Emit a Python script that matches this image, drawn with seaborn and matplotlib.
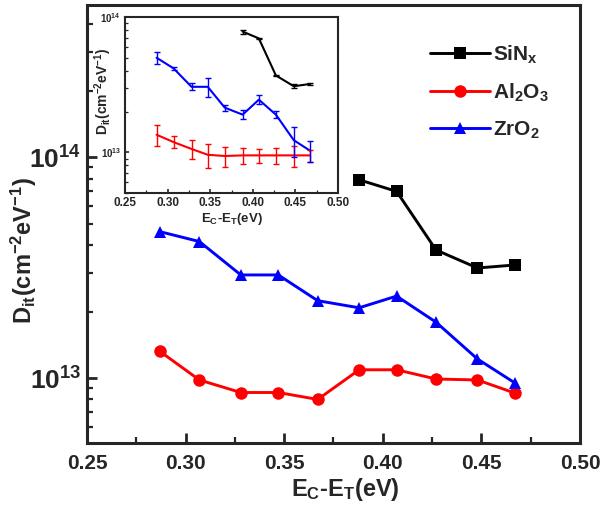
import numpy as np
import pandas as pd
import matplotlib
matplotlib.use("Agg")
import matplotlib.pyplot as plt
import seaborn as sns
from matplotlib.ticker import LogLocator, LogFormatterMathtext, NullFormatter, MultipleLocator

# ---------------- data ----------------
energy = [0.287, 0.307, 0.328, 0.347, 0.367, 0.388, 0.407, 0.427, 0.448, 0.467]
energy_sin = [0.388, 0.407, 0.427, 0.448, 0.467]

sinx_main = [7.9e13, 7.0e13, 3.8e13, 3.15e13, 3.25e13]
al2o3_main = [1.32e13, 9.8e12, 8.6e12, 8.6e12, 8.0e12, 1.09e13, 1.09e13, 9.9e12, 9.8e12, 8.55e12]
zro2_main = [4.6e13, 4.15e13, 2.93e13, 2.93e13, 2.24e13, 2.08e13, 2.35e13, 1.79e13, 1.22e13, 9.5e12]

sinx_inset = [7.8e13, 6.95e13, 3.7e13, 3.08e13, 3.2e13]
sinx_err = [2.7e12, 0.3e12, 0.3e12, 1.1e12, 0.5e12]
al2o3_inset = [1.35e13, 1.19e13, 1.06e13, 9.6e12, 9.4e12, 9.5e12, 9.5e12, 9.5e12, 9.5e12, 9.5e12]
al2o3_err = [2.4e12, 1.2e12, 1.7e12, 1.9e12, 1.6e12, 1.3e12, 1.1e12, 1.3e12, 1.7e12, 1.0e12]
zro2_inset = [5.0e13, 4.17e13, 3.05e13, 3.05e13, 2.14e13, 1.9e13, 2.45e13, 1.9e13, 1.23e13, 1.03e13]
zro2_err = [5.0e12, 1.0e12, 1.8e12, 4.7e12, 1.1e12, 1.5e12, 1.9e12, 1.2e12, 3.1e12, 1.8e12]

labels = [r"SiN$_\mathbf{x}$", r"Al$_\mathbf{2}$O$_\mathbf{3}$", r"ZrO$_\mathbf{2}$"]
colors = ["#000000", "#ff0000", "#0000ff"]
markers = ["s", "o", "^"]

# ---------------- style ----------------
sns.set_theme(style="ticks")
plt.rcParams["font.family"] = ["Liberation Sans", "DejaVu Sans"]
plt.rcParams["font.weight"] = "bold"
plt.rcParams["mathtext.fontset"] = "custom"
plt.rcParams["mathtext.rm"] = "Liberation Sans:bold"
plt.rcParams["mathtext.bf"] = "Liberation Sans:bold"
plt.rcParams["mathtext.it"] = "Liberation Sans:bold"
plt.rcParams["mathtext.default"] = "bf"

fig = plt.figure(figsize=(6.07, 5.15), dpi=100)
ax = fig.add_axes([0.1433, 0.1398, 0.8122, 0.8502])

df = pd.concat([
    pd.DataFrame({"E": energy_sin, "D": sinx_main, "m": labels[0]}),
    pd.DataFrame({"E": energy, "D": al2o3_main, "m": labels[1]}),
    pd.DataFrame({"E": energy, "D": zro2_main, "m": labels[2]}),
], ignore_index=True)

sns.lineplot(data=df, x="E", y="D", hue="m", style="m",
             palette=dict(zip(labels, colors)), markers=dict(zip(labels, markers)),
             dashes=False, linewidth=2.1, markersize=9, markeredgewidth=0,
             ax=ax, legend=True)

ax.set_yscale("log")
ax.set_xlim(0.25, 0.50)
ax.set_ylim(5.08e12, 4.88e14)
ax.xaxis.set_major_locator(MultipleLocator(0.05))
ax.xaxis.set_minor_locator(MultipleLocator(0.025))
ax.xaxis.set_major_formatter(matplotlib.ticker.FormatStrFormatter("%.2f"))
ax.yaxis.set_major_locator(LogLocator(base=10, numticks=10))
ax.yaxis.set_major_formatter(LogFormatterMathtext())
ax.yaxis.set_minor_locator(LogLocator(base=10, subs=np.arange(2, 10), numticks=20))
ax.yaxis.set_minor_formatter(NullFormatter())
ax.tick_params(which="major", direction="in", length=7, width=2, labelsize=15, pad=8)
ax.tick_params(axis="y", which="major", labelsize=19, pad=4)
ax.tick_params(which="minor", direction="in", length=4, width=1.6)
for s in ax.spines.values():
    s.set_linewidth(2.2)
ax.set_xlabel(r"E$_\mathbf{C}$-E$_\mathbf{T}$(eV)", fontsize=17, fontweight="bold", labelpad=2)
ax.xaxis.set_label_coords(0.525, -0.075)
ax.set_ylabel(r"D$_\mathbf{it}$(cm$^\mathbf{-2}$eV$^\mathbf{-1}$)", fontsize=17, fontweight="bold")
ax.yaxis.set_label_coords(-0.097, 0.44)

leg = ax.legend(loc="upper right", bbox_to_anchor=(0.975, 0.955), frameon=False, fontsize=15,
                handlelength=2.9, handletextpad=0.15, labelspacing=0.75, title=None)
for t in leg.get_texts():
    t.set_fontweight("bold")

# ---------------- inset ----------------
ins = fig.add_axes([0.206, 0.625, 0.351, 0.342])
dfi = pd.concat([
    pd.DataFrame({"E": energy_sin, "D": sinx_inset, "m": labels[0]}),
    pd.DataFrame({"E": energy, "D": al2o3_inset, "m": labels[1]}),
    pd.DataFrame({"E": energy, "D": zro2_inset, "m": labels[2]}),
], ignore_index=True)
sns.lineplot(data=dfi, x="E", y="D", hue="m", palette=dict(zip(labels, colors)),
             linewidth=1.5, ax=ins, legend=False)
for xs, ys, es, c in [(energy_sin, sinx_inset, sinx_err, colors[0]),
                      (energy, al2o3_inset, al2o3_err, colors[1]),
                      (energy, zro2_inset, zro2_err, colors[2])]:
    ins.errorbar(xs, ys, yerr=es, fmt="none", ecolor=c, elinewidth=1.0, capsize=2.5, capthick=1.0)
ins.set_yscale("log")
ins.set_xlim(0.25, 0.50)
ins.set_ylim(5.0e12, 1.0e14)
ins.xaxis.set_major_locator(MultipleLocator(0.05))
ins.xaxis.set_minor_locator(MultipleLocator(0.025))
ins.xaxis.set_major_formatter(matplotlib.ticker.FormatStrFormatter("%.2f"))
ins.yaxis.set_major_locator(LogLocator(base=10, numticks=10))
ins.yaxis.set_major_formatter(LogFormatterMathtext())
ins.yaxis.set_minor_locator(LogLocator(base=10, subs=np.arange(2, 10), numticks=20))
ins.yaxis.set_minor_formatter(NullFormatter())
ins.tick_params(which="major", direction="in", length=3, width=1.2, labelsize=8.5, pad=3)
ins.tick_params(axis="y", which="major", labelsize=7)
ins.tick_params(which="minor", direction="in", length=2, width=0.9)
for s in ins.spines.values():
    s.set_linewidth(1.5)
ins.set_xlabel(r"E$_\mathbf{C}$-E$_\mathbf{T}$(eV)", fontsize=9.5, fontweight="bold", labelpad=1)
ins.set_ylabel(r"D$_\mathbf{it}$(cm$^\mathbf{-2}$eV$^\mathbf{-1}$)", fontsize=10, fontweight="bold")
ins.yaxis.set_label_coords(-0.05, 0.58)

fig.savefig("out.png", dpi=100)
